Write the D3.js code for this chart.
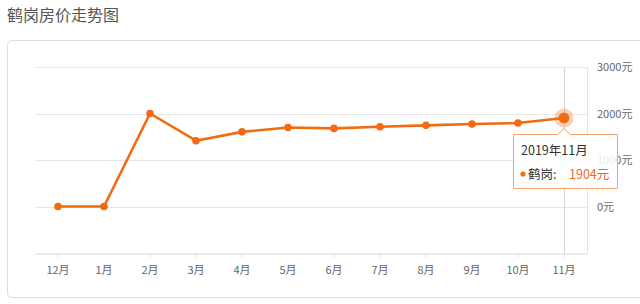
<!DOCTYPE html>
<html>
<head>
<meta charset="utf-8">
<script src="https://cdn.jsdelivr.net/npm/d3@7"></script>
<style>
  body { margin: 0; background: #fff; }
  svg { display: block; font-family: "Noto Sans CJK SC", "Noto Sans", sans-serif; }
</style>
</head>
<body>
<svg id="chart" width="640" height="304"></svg>
<script>
// data
var months = ["12月", "1月", "2月", "3月", "4月", "5月", "6月", "7月", "8月", "9月", "10月", "11月"];
var prices = [0, 0, 2000, 1415, 1605, 1700, 1680, 1715, 1745, 1775, 1795, 1904];
var yTicks = [0, 1000, 2000, 3000];
var title = "鹤岗房价走势图";
var city = "鹤岗";
var hoverLabel = "2019年11月";

var orange = "#f26b12";

var svg = d3.select("#chart");

svg.append("text")
  .attr("x", 7)
  .attr("y", 21)
  .attr("font-size", "16px")
  .attr("fill", "#555")
  .text(title);

// panel box
svg.append("rect")
  .attr("x", 7.5).attr("y", 40.5)
  .attr("width", 660).attr("height", 257)
  .attr("rx", 4)
  .attr("fill", "none")
  .attr("stroke", "#dcdcdc");

var x = d3.scaleBand().domain(months).range([35, 587]);
var y = d3.scaleLinear().domain([-1000, 3000]).range([253, 67]);
function cx(d) { return x(d) + x.bandwidth() / 2; }

// gridlines
svg.selectAll(".grid")
  .data(yTicks)
  .enter().append("line")
  .attr("x1", 35).attr("x2", 587)
  .attr("y1", function(d) { return Math.round(y(d)) + 0.5; })
  .attr("y2", function(d) { return Math.round(y(d)) + 0.5; })
  .attr("stroke", "#e6e6e6");

// right edge of grid
svg.append("line")
  .attr("x1", 587.5).attr("x2", 587.5)
  .attr("y1", y(3000)).attr("y2", y(-1000))
  .attr("stroke", "#e2e2e2");

// y labels
svg.selectAll(".ylab")
  .data(yTicks)
  .enter().append("text")
  .attr("x", 597)
  .attr("y", function(d) { return y(d) + 4; })
  .attr("font-size", "11px")
  .attr("fill", "#666")
  .text(function(d) { return d + "元"; });

// x axis
var xAxis = svg.append("g")
  .attr("transform", "translate(0," + (Math.round(y(-1000)) + 0.5) + ")")
  .call(d3.axisBottom(x).tickSizeInner(4).tickSizeOuter(0).tickPadding(9));
xAxis.select(".domain").attr("stroke", "#d6d6d6");
xAxis.selectAll(".tick line").attr("stroke", "#e0e0e0");
xAxis.selectAll(".tick text")
  .attr("font-size", "11px")
  .attr("fill", "#666")
  .attr("font-family", "\"Noto Sans CJK SC\", sans-serif");

// crosshair at last month
var last = months.length - 1;
svg.append("line")
  .attr("x1", Math.round(cx(months[last])) + 0.5)
  .attr("x2", Math.round(cx(months[last])) + 0.5)
  .attr("y1", y(3000)).attr("y2", y(-1000))
  .attr("stroke", "#d8d8d8");

// line
var line = d3.line()
  .x(function(d, i) { return cx(months[i]); })
  .y(function(d) { return y(d); });

svg.append("path")
  .datum(prices)
  .attr("d", line)
  .attr("fill", "none")
  .attr("stroke", orange)
  .attr("stroke-width", 2.6)
  .attr("stroke-linejoin", "round");

svg.selectAll(".pt")
  .data(prices)
  .enter().append("circle")
  .attr("cx", function(d, i) { return cx(months[i]); })
  .attr("cy", function(d) { return y(d); })
  .attr("r", function(d, i) { return i == last ? 5.5 : 3.8; })
  .attr("fill", orange);

// halo on hovered point
svg.append("circle")
  .attr("cx", cx(months[last]))
  .attr("cy", y(prices[last]))
  .attr("r", 7.5)
  .attr("fill", "none")
  .attr("stroke", orange)
  .attr("stroke-opacity", 0.3)
  .attr("stroke-width", 4);

// tooltip
var tx = cx(months[last]), ty = y(prices[last]);
var tip = svg.append("g");
var bx = 513.5, by = 134.5, bw = 104, bh = 54;
tip.append("path")
  .attr("d", "M" + bx + "," + by +
    "H" + (tx - 6) + "L" + tx + "," + (by - 6) + "L" + (tx + 6) + "," + by +
    "H" + (bx + bw) + "V" + (by + bh) + "H" + bx + "Z")
  .attr("fill", "#fff")
  .attr("fill-opacity", 0.88)
  .attr("stroke", "#f3a36c")
  .attr("stroke-width", 1);

tip.append("text")
  .attr("x", 521)
  .attr("y", 155)
  .attr("font-size", "12.5px")
  .attr("fill", "#333")
  .text(hoverLabel);

tip.append("circle")
  .attr("cx", 523).attr("cy", 174)
  .attr("r", 2.6)
  .attr("fill", orange);

tip.append("text")
  .attr("x", 528)
  .attr("y", 178.5)
  .attr("font-size", "12.5px")
  .attr("fill", "#333")
  .text(city + ":");

tip.append("text")
  .attr("x", 569)
  .attr("y", 178.5)
  .attr("font-size", "12.5px")
  .attr("fill", "#f06a2a")
  .text(prices[last] + "元");
</script>
</body>
</html>
